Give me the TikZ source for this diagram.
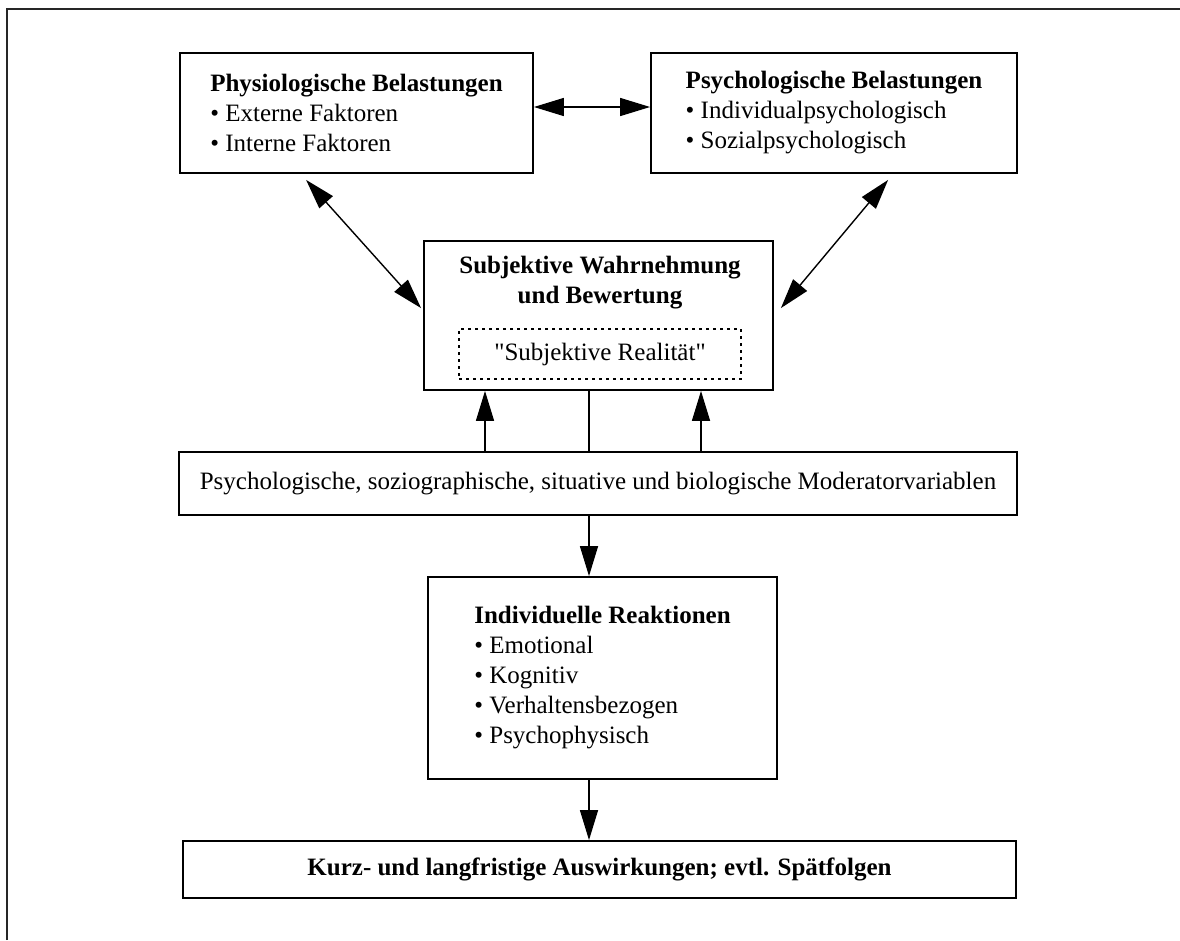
\documentclass[tikz,border=0pt]{standalone}
\usepackage{fontspec}
\setmainfont{Liberation Serif}
\usetikzlibrary{arrows.meta, calc, positioning}

\tikzset{
	box/.style={draw, line width=1.8pt, rectangle, inner sep=0pt, align=left},
	conn/.style={line width=1.4pt, -{Triangle[length=30pt,width=18pt]}},
	dconn/.style={line width=1.4pt, {Triangle[length=30pt,width=18pt]}-{Triangle[length=30pt,width=18pt]}},
}

\begin{document}
\begin{tikzpicture}[x=1pt, y=-1pt, every node/.style={font=\fontsize{25}{30}\selectfont}]
	\useasboundingbox (0,0) rectangle (1180,940);
	% frame
	\draw[line width=1.6pt, black!85] (7,940) -- (7,9) -- (1180,9);

	\node[box, minimum width=353pt, minimum height=120pt] (phys) at (356.5,113)
		{\textbf{Physiologische Belastungen}\\ \textbullet\ Externe Faktoren\\ \textbullet\ Interne Faktoren};
	\node[box, minimum width=366pt, minimum height=120pt] (psych) at (834,113)
		{\textbf{Psychologische Belastungen}\\ \textbullet\ Individualpsychologisch\\ \textbullet\ Sozialpsychologisch};

	\node[box, minimum width=349pt, minimum height=149pt] (subj) at (598.5,315.5) {};
	\node[align=center, font=\fontsize{25}{30}\selectfont\bfseries] (subjtitle) at (600,283) {Subjektive Wahrnehmung\\ und Bewertung};
	\node[draw, line width=1.5pt, dash pattern=on 3pt off 4pt, minimum width=282pt, minimum height=50pt, inner sep=0pt] (real) at (600,354)
		{\textquotedbl Subjektive Realität\textquotedbl};

	\node[box, minimum width=838pt, minimum height=63pt] (mod) at (598,483.5)
		{Psychologische, soziographische, situative und biologische Moderatorvariablen};

	\node[box, minimum width=349pt, minimum height=202pt] (ind) at (602.5,678)
		{\textbf{Individuelle Reaktionen}\\ \textbullet\ Emotional\\ \textbullet\ Kognitiv\\ \textbullet\ Verhaltensbezogen\\ \textbullet\ Psychophysisch};

	\node[box, minimum width=833pt, minimum height=57pt, font=\fontsize{25}{30}\selectfont\bfseries] (kurz) at (599.5,869.5)
		{Kurz- und langfristige Auswirkungen; evtl. Spätfolgen};

	\coordinate (ax) at (589,0);
	\coordinate (al) at (485,0);
	\coordinate (ar) at (701,0);

	\draw[dconn] ([yshift=6pt]phys.east) -- ([yshift=6pt]psych.west);
	\draw[dconn] ($(phys.south west)+(127,6)$) -- ($(subj.north west)+(-2,68)$);
	\draw[dconn] ($(psych.south west)+(238,6)$) -- ($(subj.north east)+(7,68)$);

	\foreach \c in {al,ar}
		\draw[conn] (mod.north -| \c) -- (subj.south -| \c);
	\draw[line width=1.4pt] (subj.south -| ax) -- (mod.north -| ax);
	\draw[conn] (mod.south -| ax) -- (ind.north -| ax);
	\draw[conn] (ind.south -| ax) -- (kurz.north -| ax);
\end{tikzpicture}
\end{document}
